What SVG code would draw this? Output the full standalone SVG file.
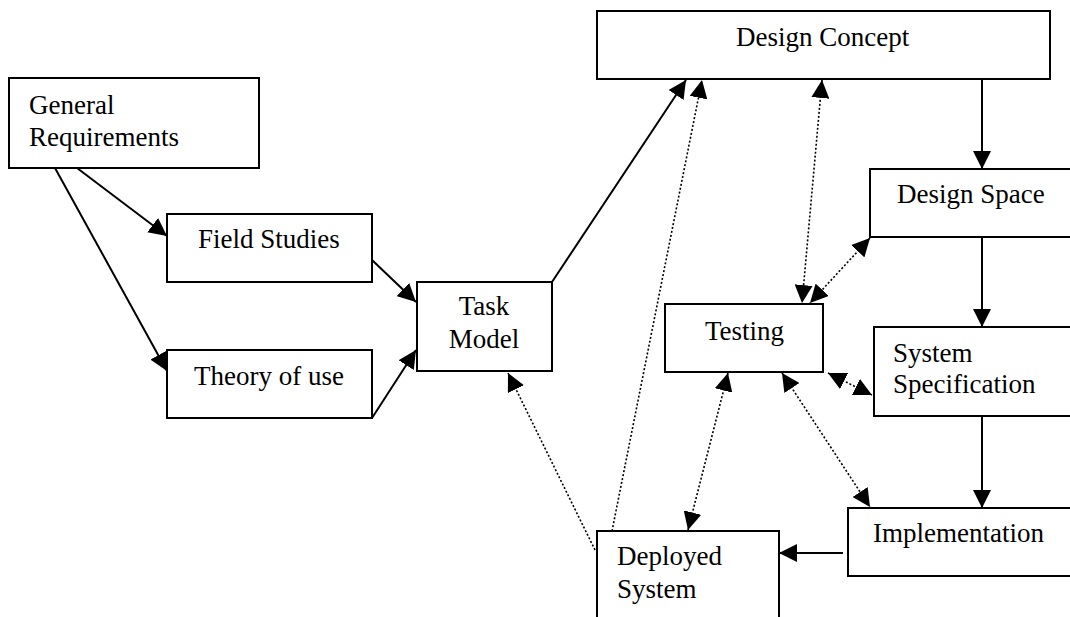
<svg xmlns="http://www.w3.org/2000/svg" width="1070" height="617" viewBox="0 0 1070 617">
  <style>
    .box { fill: #ffffff; stroke: #000000; stroke-width: 2; }
    .lbl { font-family: "Liberation Serif", "Times New Roman", serif; font-size: 27px; fill: #000000; }
    .solid { fill: none; stroke: #000000; stroke-width: 2; }
    .dot { fill: none; stroke: #000000; stroke-width: 1.6; stroke-dasharray: 2 2; }
  </style>
  <defs>
    <marker id="arrow" viewBox="0 0 18 18" refX="18" refY="9" markerWidth="18" markerHeight="18" markerUnits="userSpaceOnUse" orient="auto-start-reverse">
      <path d="M0,0 L18,9 L0,18 Z" fill="#000000"/>
    </marker>
  </defs>
  <rect width="1070" height="617" fill="#ffffff"/>

  <g id="connectors">
    <line class="solid" x1="77" y1="168" x2="167" y2="236" marker-end="url(#arrow)"/>
    <line class="solid" x1="55" y1="168" x2="167" y2="371" marker-end="url(#arrow)"/>
    <line class="solid" x1="372" y1="260" x2="416" y2="302" marker-end="url(#arrow)"/>
    <line class="solid" x1="372" y1="418" x2="416" y2="350" marker-end="url(#arrow)"/>
    <line class="solid" x1="552" y1="282" x2="686" y2="80" marker-end="url(#arrow)"/>
    <line class="dot" x1="612" y1="531" x2="702" y2="80" marker-end="url(#arrow)"/>
    <line class="dot" x1="595" y1="550" x2="508" y2="373" marker-end="url(#arrow)"/>
    <line class="solid" x1="982" y1="79" x2="982" y2="169" marker-end="url(#arrow)"/>
    <line class="solid" x1="982" y1="237" x2="982" y2="327" marker-end="url(#arrow)"/>
    <line class="solid" x1="982" y1="416" x2="982" y2="508" marker-end="url(#arrow)"/>
    <line class="solid" x1="843" y1="553" x2="779" y2="553" marker-end="url(#arrow)"/>
    <line class="dot" x1="822" y1="80" x2="802" y2="303" marker-start="url(#arrow)" marker-end="url(#arrow)"/>
    <line class="dot" x1="870" y1="238" x2="810" y2="303" marker-start="url(#arrow)" marker-end="url(#arrow)"/>
    <line class="dot" x1="828" y1="373" x2="872" y2="395" marker-start="url(#arrow)" marker-end="url(#arrow)"/>
    <line class="dot" x1="728" y1="373" x2="688" y2="530" marker-start="url(#arrow)" marker-end="url(#arrow)"/>
    <line class="dot" x1="782" y1="373" x2="870" y2="507" marker-start="url(#arrow)" marker-end="url(#arrow)"/>
  </g>

  <g id="general-requirements">
    <rect class="box" x="9" y="78" width="250" height="90"/>
    <text class="lbl" x="29" y="114">General</text>
    <text class="lbl" x="29" y="146">Requirements</text>
  </g>
  <g id="field-studies">
    <rect class="box" x="167" y="214" width="205" height="68"/>
    <text class="lbl" x="198" y="248">Field Studies</text>
  </g>
  <g id="theory-of-use">
    <rect class="box" x="167" y="350" width="205" height="68"/>
    <text class="lbl" x="194" y="385">Theory of use</text>
  </g>
  <g id="task-model">
    <rect class="box" x="417" y="282" width="135" height="89"/>
    <text class="lbl" x="484" y="315" text-anchor="middle">Task</text>
    <text class="lbl" x="484" y="348" text-anchor="middle">Model</text>
  </g>
  <g id="design-concept">
    <rect class="box" x="597" y="11" width="453" height="68"/>
    <text class="lbl" x="736" y="46">Design Concept</text>
  </g>
  <g id="design-space">
    <rect class="box" x="870" y="169" width="210" height="68"/>
    <text class="lbl" x="897" y="203">Design Space</text>
  </g>
  <g id="testing">
    <rect class="box" x="665" y="304" width="158" height="68"/>
    <text class="lbl" x="705" y="340">Testing</text>
  </g>
  <g id="system-specification">
    <rect class="box" x="874" y="327" width="206" height="89"/>
    <text class="lbl" x="893" y="362">System</text>
    <text class="lbl" x="893" y="393">Specification</text>
  </g>
  <g id="implementation">
    <rect class="box" x="848" y="508" width="232" height="68"/>
    <text class="lbl" x="873" y="542">Implementation</text>
  </g>
  <g id="deployed-system">
    <rect class="box" x="597" y="531" width="182" height="100"/>
    <text class="lbl" x="617" y="565">Deployed</text>
    <text class="lbl" x="617" y="598">System</text>
  </g>
</svg>
